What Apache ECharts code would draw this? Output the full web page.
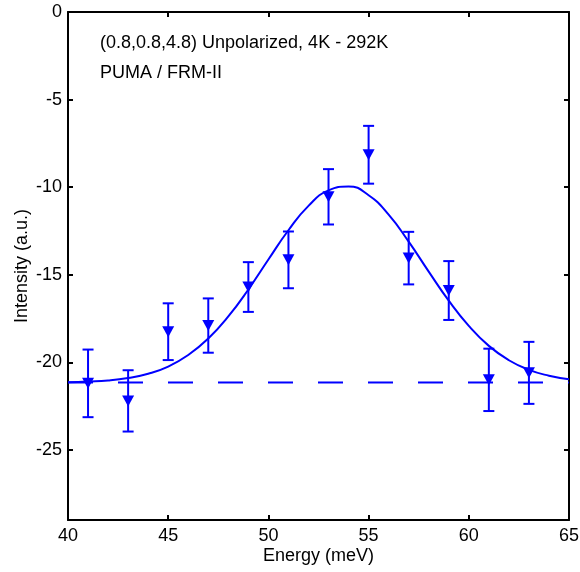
<!DOCTYPE html>
<html>
<head>
<meta charset="utf-8">
<script src="https://cdn.jsdelivr.net/npm/echarts@6/dist/echarts.min.js"></script>
<style>
html,body{margin:0;padding:0;background:#fff;}
#c{width:580px;height:572px;}
</style>
</head>
<body>
<div id="c"></div>
<script>
// Measured data points (energy in meV, intensity in a.u., error half-length)
const energies = [41, 43, 45, 47, 49, 51, 53, 55, 57, 59, 61, 63];
const intensities = [-21.2, -22.2, -18.25, -17.9, -15.7, -14.15, -10.55, -8.15, -14.05, -15.9, -21.0, -20.6];
const errors = [1.93, 1.75, 1.62, 1.55, 1.42, 1.62, 1.58, 1.65, 1.5, 1.68, 1.78, 1.77];

// Fit curve
const fitX = [40, 41, 42, 43, 44, 45, 46, 47, 48, 49, 50, 51, 52, 53, 54, 55, 56, 57, 58, 59, 60, 61, 62, 63, 64, 65];
const fitY = [-21.13, -21.09, -21.03, -20.89, -20.65, -20.24, -19.58, -18.64, -17.38, -15.84, -14.13, -12.46, -11.07, -10.18, -9.96, -10.46, -11.57, -13.11, -14.82, -16.48, -17.92, -19.06, -19.88, -20.43, -20.76, -20.96];

// Background level (dashed line)
const baseX = [40, 65];
const baseY = [-21.15, -21.15];

// Axis ticks
const xTicks = [40, 45, 50, 55, 60, 65];
const yTicks = [0, -5, -10, -15, -20, -25];

const annotation1 = '(0.8,0.8,4.8) Unpolarized, 4K - 292K';
const annotation2 = 'PUMA / FRM-II';

const FONT = 'Liberation Sans, Arial, sans-serif';
const BLUE = '#0000ff';
const FS = 18;

const chart = echarts.init(document.getElementById('c'), null, {renderer: 'canvas'});

const axisLine = {show: true, onZero: false, lineStyle: {color: '#000', width: 2}};
const axisTick = {show: true, inside: true, length: 5, lineStyle: {color: '#000', width: 2}};

const option = {
  backgroundColor: '#fff',
  animation: false,
  grid: {left: 68, right: 11, top: 12, bottom: 52, containLabel: false, outerBoundsMode: 'none'},
  xAxis: [
    {
      type: 'value', min: 40, max: 65, interval: 5, position: 'bottom',
      axisLine: axisLine, axisTick: axisTick, splitLine: {show: false},
      axisLabel: {color: '#000', fontSize: FS, fontFamily: FONT, margin: 7},
      name: 'Energy (meV)', nameLocation: 'middle', nameGap: 27, nameMoveOverlap: false,
      nameTextStyle: {color: '#000', fontSize: FS, fontFamily: FONT}
    },
    {
      type: 'value', min: 40, max: 65, interval: 5, position: 'top',
      axisLine: axisLine, axisTick: axisTick, splitLine: {show: false},
      axisLabel: {show: false}
    }
  ],
  yAxis: [
    {
      type: 'value', min: -29, max: 0, position: 'left',
      axisLine: axisLine,
      axisTick: Object.assign({}, axisTick, {customValues: yTicks}),
      splitLine: {show: false},
      axisLabel: {color: '#000', fontSize: FS, fontFamily: FONT, margin: 6, customValues: yTicks},
      name: 'Intensity (a.u.)', nameLocation: 'middle', nameGap: 37, nameMoveOverlap: false,
      nameTextStyle: {color: '#000', fontSize: FS, fontFamily: FONT}
    },
    {
      type: 'value', min: -29, max: 0, position: 'right',
      axisLine: axisLine,
      axisTick: Object.assign({}, axisTick, {customValues: yTicks}),
      splitLine: {show: false},
      axisLabel: {show: false, customValues: yTicks}
    }
  ],
  graphic: [
    {type: 'text', left: 100, top: 34, style: {text: annotation1, fill: '#000', font: FS + 'px ' + FONT}},
    {type: 'text', left: 100, top: 64, style: {text: annotation2, fill: '#000', font: FS + 'px ' + FONT}}
  ],
  series: [
    {
      type: 'line', xAxisIndex: 0, yAxisIndex: 0,
      data: fitX.map((x, i) => [x, fitY[i]]),
      smooth: true, showSymbol: false, symbol: 'none',
      lineStyle: {color: BLUE, width: 2}, z: 3
    },
    {
      type: 'line', xAxisIndex: 0, yAxisIndex: 0,
      data: baseX.map((x, i) => [x, baseY[i]]),
      showSymbol: false, symbol: 'none',
      lineStyle: {color: BLUE, width: 2, type: [25, 25]}, z: 3
    },
    {
      type: 'custom', xAxisIndex: 0, yAxisIndex: 0,
      data: energies.map((x, i) => [x, intensities[i], errors[i]]),
      renderItem: function (params, api) {
        const x = api.value(0), y = api.value(1), e = api.value(2);
        const pt = api.coord([x, y + e]);
        const pb = api.coord([x, y - e]);
        const hw = 5.5;
        const st = {stroke: BLUE, lineWidth: 2};
        return {
          type: 'group',
          children: [
            {type: 'line', shape: {x1: pt[0], y1: pt[1], x2: pb[0], y2: pb[1]}, style: st},
            {type: 'line', shape: {x1: pt[0] - hw, y1: pt[1], x2: pt[0] + hw, y2: pt[1]}, style: st},
            {type: 'line', shape: {x1: pb[0] - hw, y1: pb[1], x2: pb[0] + hw, y2: pb[1]}, style: st}
          ]
        };
      },
      z: 4
    },
    {
      type: 'scatter', xAxisIndex: 0, yAxisIndex: 0,
      data: energies.map((x, i) => [x, intensities[i]]),
      symbol: 'triangle', symbolRotate: 180, symbolSize: [12, 11],
      itemStyle: {color: BLUE, opacity: 1}, z: 5
    }
  ]
};

chart.setOption(option);
</script>
</body>
</html>
